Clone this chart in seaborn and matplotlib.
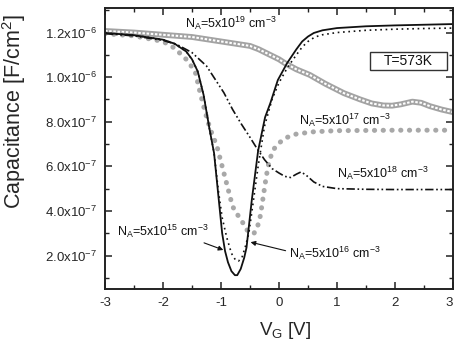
import matplotlib
matplotlib.use("Agg")
import matplotlib.pyplot as plt
import matplotlib.ticker as mticker
from matplotlib.patches import Rectangle
import seaborn as sns

# Gate voltage (V) and capacitance (1e-6 F/cm^2) for each acceptor concentration
v_5e15 = [-3.0, -2.5, -2.0, -1.8, -1.6, -1.5, -1.4, -1.3, -1.2, -1.12, -1.05, -0.98, -0.93,
          -0.88, -0.82, -0.76, -0.72, -0.66, -0.60, -0.56, -0.47, -0.36, -0.24, -0.15, -0.02,
          0.14, 0.30, 0.40, 0.50, 0.60, 0.75, 1.0, 1.5, 2.0, 2.5, 3.0]
c_5e15 = [1.198, 1.188, 1.168, 1.15, 1.115, 1.08, 1.025, 0.92, 0.77, 0.66, 0.48, 0.30, 0.22,
          0.17, 0.13, 0.112, 0.112, 0.14, 0.19, 0.236, 0.447, 0.67, 0.82, 0.883, 0.987,
          1.063, 1.125, 1.16, 1.182, 1.198, 1.21, 1.22, 1.228, 1.232, 1.235, 1.238]

v_5e16 = [-3.0, -2.5, -2.0, -1.8, -1.6, -1.5, -1.4, -1.3, -1.2, -1.12, -1.05, -0.98, -0.90,
          -0.82, -0.75, -0.70, -0.64, -0.58, -0.52, -0.45, -0.36, -0.25, -0.12, 0.0, 0.15,
          0.30, 0.40, 0.50, 0.62, 0.75, 1.0, 1.5, 2.0, 2.5, 3.0]
c_5e16 = [1.198, 1.188, 1.168, 1.15, 1.115, 1.08, 1.025, 0.92, 0.77, 0.66, 0.50, 0.37, 0.28,
          0.21, 0.18, 0.175, 0.19, 0.24, 0.30, 0.43, 0.60, 0.78, 0.90, 0.975, 1.045,
          1.10, 1.135, 1.16, 1.18, 1.19, 1.20, 1.21, 1.215, 1.218, 1.22]

v_5e17 = [-3.0, -2.5, -2.0, -1.8, -1.6, -1.5, -1.45, -1.36, -1.27, -1.19, -1.07, -0.96, -0.87,
          -0.80, -0.72, -0.64, -0.57, -0.50, -0.43, -0.37, -0.32, -0.28, -0.24, -0.19, -0.14,
          -0.08, 0.0, 0.14, 0.30, 0.60, 1.0, 2.0, 3.0]
c_5e17 = [1.195, 1.185, 1.16, 1.13, 1.08, 1.045, 1.03, 0.93, 0.84, 0.77, 0.69, 0.58, 0.49,
          0.42, 0.385, 0.355, 0.32, 0.30, 0.30, 0.33, 0.38, 0.45, 0.52, 0.60, 0.645,
          0.68, 0.705, 0.73, 0.745, 0.755, 0.76, 0.762, 0.762]

v_5e18 = [-3.0, -2.5, -2.0, -1.75, -1.5, -1.25, -1.1, -0.95, -0.8, -0.65, -0.5, -0.38, -0.25,
          -0.12, 0.0, 0.1, 0.2, 0.3, 0.38, 0.47, 0.6, 0.75, 1.0, 1.5, 2.0, 3.0]
c_5e18 = [1.195, 1.185, 1.165, 1.145, 1.11, 1.05, 0.99, 0.93, 0.855, 0.79, 0.73, 0.68, 0.63,
          0.59, 0.57, 0.555, 0.55, 0.565, 0.575, 0.56, 0.53, 0.51, 0.50, 0.497, 0.496, 0.496]

v_5e19 = [-3.0, -2.5, -2.0, -1.5, -1.0, -0.5, -0.35, 0.0, 0.1, 0.3, 0.53, 0.8, 1.12, 1.4,
          1.6, 1.8, 1.95, 2.1, 2.3, 2.45, 2.6, 2.8, 3.0]
c_5e19 = [1.207, 1.20, 1.19, 1.18, 1.16, 1.14, 1.125, 1.08, 1.063, 1.035, 1.01, 0.97, 0.928,
          0.90, 0.882, 0.873, 0.872, 0.878, 0.89, 0.885, 0.87, 0.855, 0.843]

y_ticks = [2e-7, 4e-7, 6e-7, 8e-7, 1.0e-6, 1.2e-6]
x_ticks = [-3, -2, -1, 0, 1, 2, 3]

FONT = "Liberation Sans"
sns.set_style("ticks")
plt.rcParams["font.family"] = [FONT, "DejaVu Sans"]
plt.rcParams["mathtext.fontset"] = "custom"
plt.rcParams["mathtext.rm"] = FONT
plt.rcParams["mathtext.it"] = FONT
plt.rcParams["mathtext.default"] = "regular"

fig = plt.figure(figsize=(4.54, 3.44), dpi=100)
ax = fig.add_axes([105 / 454, 1 - 289 / 344, 348 / 454, 281 / 344])

def scaled(c):
    return [v * 1e-6 for v in c]

# N_A = 5e19: grey band of open circles
sns.lineplot(x=v_5e19, y=scaled(c_5e19), ax=ax, color="#a3a3a3", lw=4.2, sort=False)
sns.lineplot(x=v_5e19, y=scaled(c_5e19), ax=ax, color="white", lw=1.5,
             linestyle=(0, (1.2, 0.8)), sort=False)
# N_A = 5e17: grey round dots
sns.lineplot(x=v_5e17, y=scaled(c_5e17), ax=ax, color="#a8a8a8", lw=3.6,
             linestyle=(0, (0.05, 1.7)), dash_capstyle="round", sort=False)
# N_A = 5e18: dash-dot-dot
sns.lineplot(x=v_5e18, y=scaled(c_5e18), ax=ax, color="#111111", lw=1.2,
             linestyle=(0, (5, 1.6, 1, 1.6, 1, 1.6)), sort=False)
# N_A = 5e16: dotted
sns.lineplot(x=v_5e16, y=scaled(c_5e16), ax=ax, color="#111111", lw=1.2,
             linestyle=(0, (1, 2.2)), sort=False)
# N_A = 5e15: solid
sns.lineplot(x=v_5e15, y=scaled(c_5e15), ax=ax, color="#111111", lw=1.3, sort=False)

ax.set_xlim(-3, 3)
ax.set_ylim(0.5e-7, 1.31e-6)

ax.set_xticks(x_ticks)
ax.set_xticklabels([str(t) for t in x_ticks])
ax.get_xticklabels()[-1].set_ha("right")
ax.xaxis.set_minor_locator(mticker.MultipleLocator(0.5))
ax.set_yticks(y_ticks)

def sci_label(val, pos=None):
    exp = int(f"{val:e}".split("e")[1])
    mant = val / 10 ** exp
    return f"{mant:.1f}x10$^{{{exp}}}$"

ax.yaxis.set_major_formatter(mticker.FuncFormatter(sci_label))
ax.yaxis.set_minor_locator(mticker.MultipleLocator(1e-7))

for side in ["top", "right", "left", "bottom"]:
    ax.spines[side].set_visible(True)
    ax.spines[side].set_linewidth(1.4)
    ax.spines[side].set_color("#222222")
ax.tick_params(which="both", direction="in", top=True, right=True, color="#222222")
ax.tick_params(which="major", length=5, width=1.1, labelsize=9.5, pad=6)
ax.tick_params(which="minor", length=3, width=1.0)

ax.set_ylabel("Capacitance [F/cm$^2$]", fontsize=15.5)
ax.yaxis.set_label_coords(-0.222, 0.633)
ax.set_xlabel("V$_G$ [V]", fontsize=13.5)
ax.xaxis.set_label_coords(0.517, -0.146)
ax.xaxis.label.set_va("center")

lab = dict(fontsize=9, color="#111111")
ax.text(-1.62, 1.219e-6, "N$_A$=5x10$^{19}$ cm$^{-3}$", va="baseline", **lab)
ax.text(0.34, 0.784e-6, "N$_A$=5x10$^{17}$ cm$^{-3}$", va="baseline", **lab)
ax.text(1.0, 0.55e-6, "N$_A$=5x10$^{18}$ cm$^{-3}$", va="baseline", **lab)

arrow = dict(arrowstyle="-|>", color="#111111", lw=0.8, mutation_scale=7,
             shrinkA=0, shrinkB=0)
ax.annotate("N$_A$=5x10$^{15}$ cm$^{-3}$", xy=(-0.96, 0.225e-6), xytext=(-2.79, 0.29e-6),
            va="baseline", arrowprops=dict(arrow, relpos=(0.85, 0.0)), **lab)
ax.annotate("N$_A$=5x10$^{16}$ cm$^{-3}$", xy=(-0.49, 0.26e-6), xytext=(0.17, 0.19e-6),
            va="baseline", arrowprops=dict(arrow, relpos=(0.0, 0.6)), **lab)

ax.add_patch(Rectangle((1.57, 1.031e-6), 1.32, 0.081e-6, fill=False,
                       edgecolor="#333333", lw=1.0, zorder=5))
ax.text(2.23, 1.072e-6, "T=573K", ha="center", va="center", fontsize=10,
        color="#111111", zorder=6)

fig.savefig("out.png", dpi=100)
